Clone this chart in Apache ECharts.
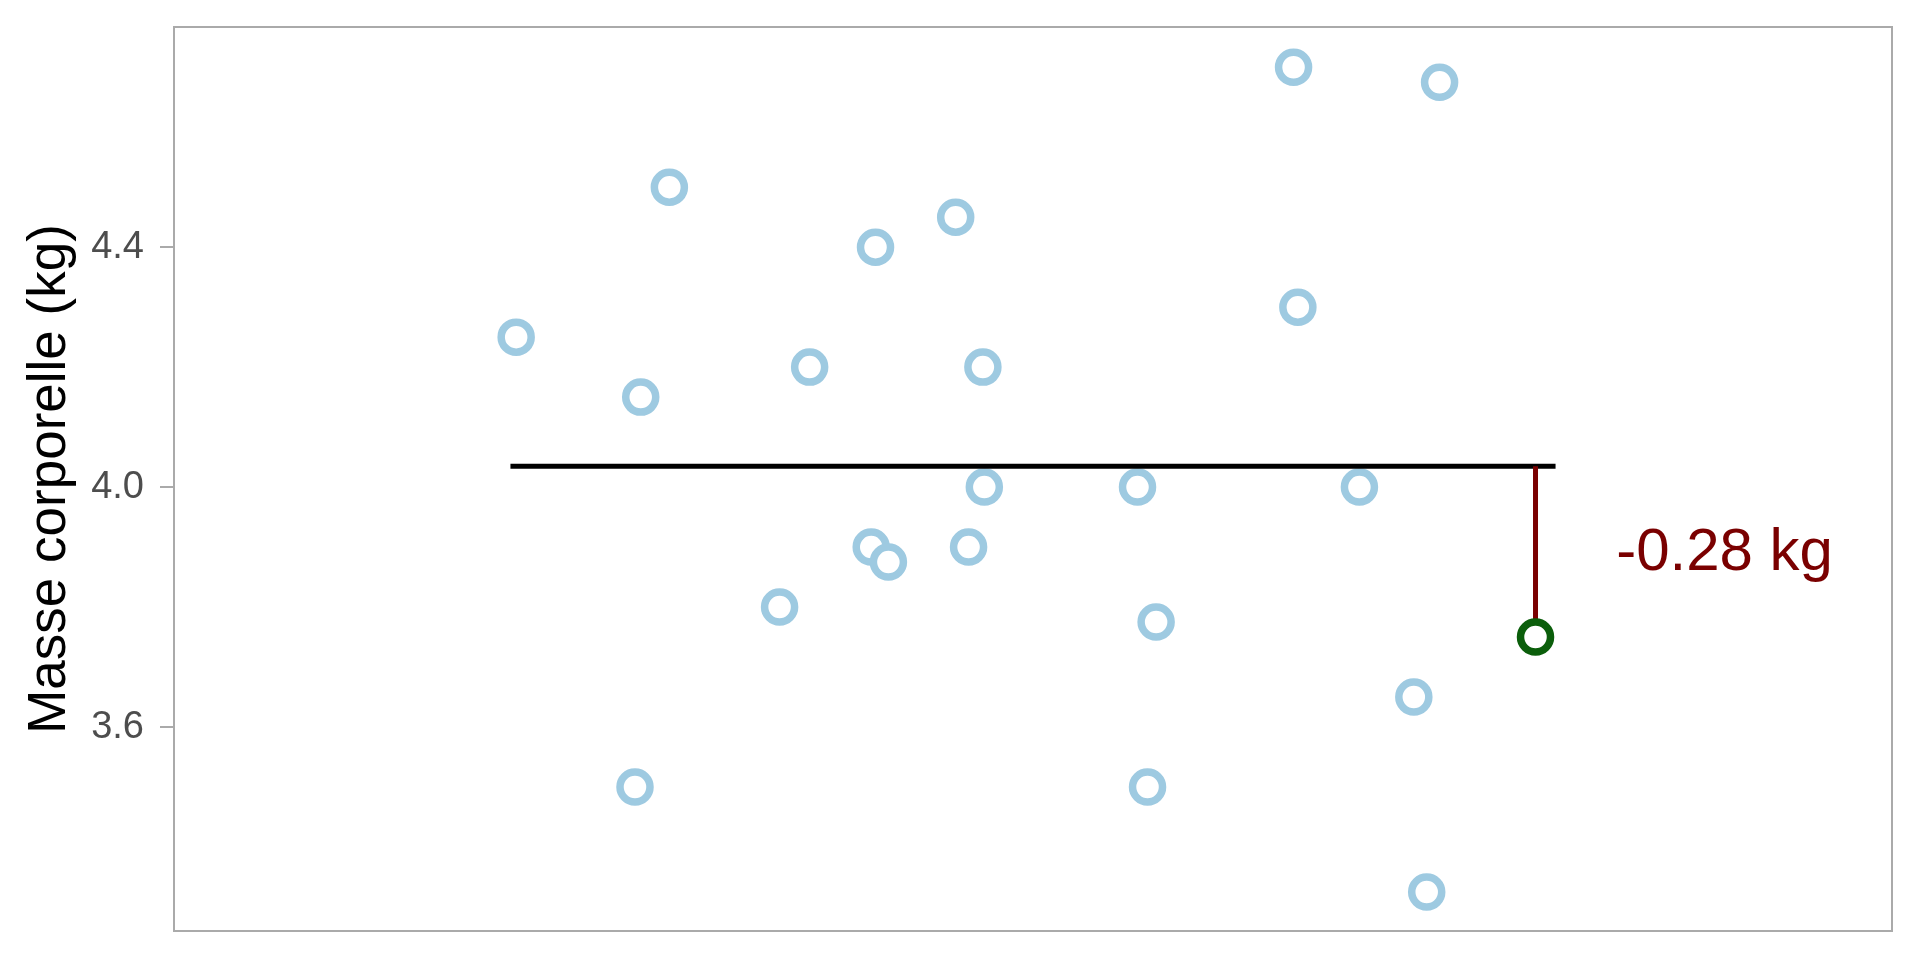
<!DOCTYPE html>
<html>
<head>
<meta charset="utf-8">
<script src="https://cdn.jsdelivr.net/npm/echarts@6/dist/echarts.min.js"></script>
<style>
  html, body { margin: 0; padding: 0; background: #ffffff; }
  #chart { width: 1920px; height: 960px; }
</style>
</head>
<body>
<div id="chart"></div>
<script>
// Jittered horizontal positions (single group centred at 1) and body masses (kg)
const jitterX = [0.639, 0.726, 0.746, 0.844, 0.890, 0.946, 0.965, 0.966, 1.073, 1.182, 1.284,
                 1.185, 1.228, 0.722, 0.823, 0.887, 0.899, 0.955, 1.086, 1.080, 1.266, 1.275];
const masses  = [4.25, 4.15, 4.5, 4.2, 4.4, 4.45, 4.2, 4.0, 4.0, 4.7, 4.675,
                 4.3, 4.0, 3.5, 3.8, 3.9, 3.875, 3.9, 3.775, 3.5, 3.65, 3.325];
// Highlighted individual
const highlightX = 1.351;
const highlightMass = 3.75;
// Mean line extent
const meanLineX = [0.635, 1.365];
// Annotation
const annotationText = "-0.28 kg";
const annotationPos = [1.407, 3.890];
// Y tick labels
const yTicks = [3.6, 4.0, 4.4];
const yRange = [3.26, 4.767];
const yTitle = "Masse corporelle (kg)";

const allMasses = masses.concat([highlightMass]);
const meanMass = allMasses.reduce((a, b) => a + b, 0) / allMasses.length;

const pointData = jitterX.map((x, i) => [x, masses[i]]);
const FONT = 'Liberation Sans, Arial, sans-serif';

const chart = echarts.init(document.getElementById('chart'), null, { renderer: 'canvas' });
chart.setOption({
  animation: false,
  backgroundColor: '#ffffff',
  textStyle: { fontFamily: FONT },
  grid: {
    left: 174, right: 28, top: 27, bottom: 29,
    show: true, borderColor: '#aaaaaa', borderWidth: 2, backgroundColor: '#ffffff'
  },
  xAxis: {
    type: 'value', min: 0.4, max: 1.6, show: false
  },
  yAxis: {
    type: 'value', min: yRange[0], max: yRange[1],
    name: yTitle, nameLocation: 'middle', nameRotate: 90, nameGap: 97,
    nameTextStyle: { fontSize: 53, color: '#000000', fontFamily: FONT },
    axisLine: { show: false },
    splitLine: { show: false },
    axisTick: { show: true, length: 14, customValues: yTicks, lineStyle: { color: '#aaaaaa', width: 2 } },
    axisLabel: {
      show: true, customValues: yTicks, fontSize: 38, color: '#4d4d4d', margin: 30,
      fontFamily: FONT,
      formatter: v => v.toFixed(1)
    }
  },
  series: [
    {
      type: 'scatter', name: 'individus', data: pointData,
      symbol: 'circle', symbolSize: 30, z: 3,
      itemStyle: { color: '#ffffff', borderColor: '#9ecae1', borderWidth: 7.5, opacity: 1 }
    },
    {
      type: 'line', name: 'moyenne', data: meanLineX.map(x => [x, meanMass]),
      showSymbol: false, symbol: 'none', z: 4,
      lineStyle: { color: '#000000', width: 5 }
    },
    {
      type: 'line', name: 'écart', data: [[highlightX, meanMass], [highlightX, highlightMass]],
      showSymbol: false, symbol: 'none', z: 5,
      lineStyle: { color: '#7a0000', width: 5 }
    },
    {
      type: 'scatter', name: 'focal', data: [[highlightX, highlightMass]],
      symbol: 'circle', symbolSize: 30, z: 6,
      itemStyle: { color: '#ffffff', borderColor: '#0b5e0b', borderWidth: 7.5, opacity: 1 }
    },
    {
      type: 'scatter', name: 'annotation', data: [annotationPos],
      symbol: 'circle', symbolSize: 1, z: 7, silent: true,
      itemStyle: { color: '#ffffff', opacity: 1 },
      label: {
        show: true, position: 'right', distance: 0, align: 'left', verticalAlign: 'middle',
        formatter: annotationText, fontSize: 60, color: '#7a0000', opacity: 1,
        fontFamily: FONT
      }
    }
  ]
});
</script>
</body>
</html>
